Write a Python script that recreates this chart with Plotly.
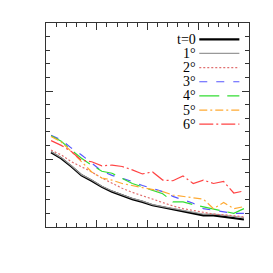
import plotly.graph_objects as go

x = [i + 0.5 for i in range(20)]
t0 = [5.5, 5.05, 4.45, 3.8, 3.4, 2.95, 2.6, 2.3, 2.05, 1.85, 1.6, 1.45, 1.3, 1.15, 1.05, 0.85, 0.85, 0.75, 0.6, 0.55]
d1 = [5.55, 5.1, 4.5, 3.85, 3.45, 3.0, 2.65, 2.35, 2.1, 1.9, 1.65, 1.5, 1.35, 1.2, 1.1, 0.95, 0.95, 0.85, 0.75, 0.7]
d2 = [5.65, 5.3, 4.8, 4.45, 4.05, 3.6, 3.2, 2.85, 2.55, 2.3, 2.0, 1.8, 1.55, 1.35, 1.2, 1.05, 0.95, 0.9, 0.8, 0.75]
d3 = [6.75, 6.4, 5.8, 5.3, 4.7, 4.1, 3.8, 3.6, 3.35, 3.05, 2.85, 2.6, 2.25, 2.0, 1.75, 1.35, 1.25, 1.15, 1.0, 1.0]
d4 = [6.7, 6.3, 5.65, 5.05, 4.55, 4.1, 3.95, 3.6, 3.2, 2.95, 2.7, 2.45, 1.85, 1.85, 1.65, 1.5, 1.3, 1.2, 1.0, 1.35]
d5 = [6.65, 6.25, 5.55, 4.8, 4.05, 3.6, 3.45, 3.2, 3.05, 2.9, 2.8, 2.6, 2.35, 2.25, 2.15, 2.05, 1.35, 1.8, 1.35, 1.5]
d6 = [6.35, 6.0, 5.55, 4.9, 4.8, 4.5, 4.55, 4.45, 4.2, 3.9, 4.05, 3.45, 3.4, 3.75, 3.2, 3.45, 3.2, 3.35, 2.5, 2.65]
labels = ["t=0", "1°", "2°", "3°", "4°", "5°", "6°"]

series = [t0, d1, d2, d3, d4, d5, d6]
styles = [
    dict(color="black", width=2.2, dash="solid"),
    dict(color="#999999", width=1.2, dash="solid"),
    dict(color="#e07070", width=1.2, dash="2px,2px"),
    dict(color="#5555ff", width=1.2, dash="8px,9px"),
    dict(color="#33dd33", width=1.2, dash="20px,8px"),
    dict(color="#ffaa33", width=1.2, dash="8px,3px,2px,3px"),
    dict(color="#ff4444", width=1.2, dash="14px,3px,2px,3px"),
]

fig = go.Figure()
for ys, st in zip(series, styles):
    fig.add_trace(go.Scatter(x=x, y=ys, mode="lines", line=st, showlegend=False, hoverinfo="skip"))

# legend drawn inside plot
leg_y0 = 13.8
leg_dy = 1.04
for i, (lab, st) in enumerate(zip(labels, styles)):
    yy = leg_y0 - i * leg_dy
    fig.add_trace(go.Scatter(x=[15.1, 19.05], y=[yy, yy], mode="lines", line=st, showlegend=False, hoverinfo="skip"))
    fig.add_annotation(x=15.0, y=yy, text=lab, showarrow=False, xanchor="right", yanchor="middle",
                       font=dict(family="Liberation Serif", size=14, color="black"))

axis_common = dict(showgrid=False, zeroline=False, showticklabels=False, ticks="inside",
                   ticklen=7, tickcolor="#333", showline=True, linecolor="#333", linewidth=1,
                   mirror="allticks")
fig.update_xaxes(range=[0, 20], dtick=5, tick0=0,
                 minor=dict(dtick=1, ticks="inside", ticklen=4, tickcolor="#333"), **axis_common)
fig.update_yaxes(range=[0, 15], dtick=5, tick0=0,
                 minor=dict(dtick=1, ticks="inside", ticklen=4, tickcolor="#333"), **axis_common)
fig.update_layout(width=273, height=273, margin=dict(l=38, r=32, t=15, b=54),
                  paper_bgcolor="white", plot_bgcolor="white")
fig.write_html("out.html")
